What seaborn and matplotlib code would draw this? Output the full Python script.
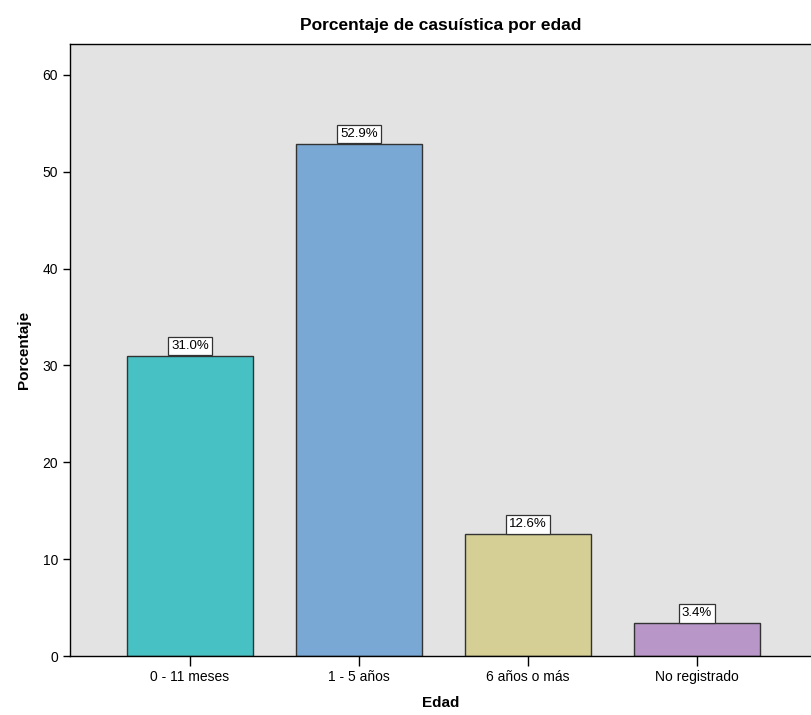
import pandas as pd
import seaborn as sns
import matplotlib.pyplot as plt

# data
categories = ['0 - 11 meses', '1 - 5 años', '6 años o más', 'No registrado']
percentages = [31.0, 52.9, 12.6, 3.4]
bar_colors = ['#47C1C4', '#7AA8D4', '#D5CF96', '#B897C8']
yticks = [0, 10, 20, 30, 40, 50, 60]

sns.set_theme(style="white")
plt.rcParams['font.family'] = ['Liberation Sans', 'DejaVu Sans']
plt.rcParams['text.color'] = 'black'
plt.rcParams['axes.labelcolor'] = 'black'
plt.rcParams['xtick.color'] = 'black'
plt.rcParams['ytick.color'] = 'black'

df = pd.DataFrame({'edad': categories, 'pct': percentages})

fig = plt.figure(figsize=(8.12, 7.15), dpi=100)
ax = fig.add_axes([70 / 812, 59 / 715, 1 - 70 / 812, 612 / 715])
ax.set_facecolor('#E3E3E3')

sns.barplot(data=df, x='edad', y='pct', hue='edad', palette=bar_colors,
            width=0.745, edgecolor='#333333', linewidth=1.0,
            legend=False, ax=ax, saturation=1)

# value labels in small white boxes sitting on top of the bars
for i, v in enumerate(percentages):
    ax.annotate(f'{v:.1f}%', xy=(i, v), xytext=(0, 2.6), textcoords='offset points',
                ha='center', va='bottom', fontsize=9.5,
                bbox=dict(boxstyle='square,pad=0.25', facecolor='white',
                          edgecolor='#333333', linewidth=0.9))

ax.set_xlim(-0.71, 3.68)
ax.set_ylim(0, 63.2)
ax.set_yticks(yticks)
ax.tick_params(axis='both', which='major', direction='out', length=5, width=1,
               color='black', labelsize=10, left=True, bottom=True)
ax.tick_params(axis='x', pad=3, length=7)

for side in ['left', 'top', 'bottom']:
    ax.spines[side].set_visible(True)
    ax.spines[side].set_color('black')
    ax.spines[side].set_linewidth(1)
ax.spines['right'].set_visible(False)

ax.set_xlabel('Edad', fontsize=11, fontweight='bold', labelpad=9)
ax.set_ylabel('Porcentaje', fontsize=11, fontweight='bold', labelpad=8)
ax.set_title('Porcentaje de casuística por edad', fontsize=12.5,
             fontweight='bold', pad=10)

fig.savefig('out.png', dpi=100)
